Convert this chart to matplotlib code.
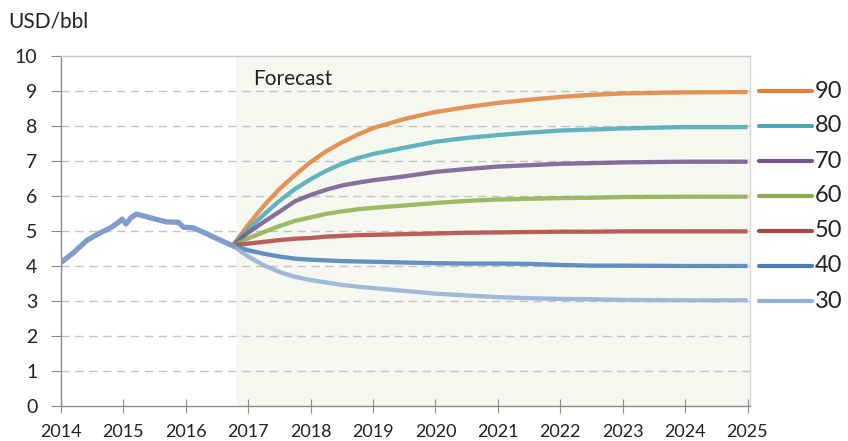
import matplotlib
matplotlib.use("Agg")
import matplotlib.pyplot as plt

plt.rcParams['font.family'] = ['Lato', 'DejaVu Sans']

# Historical price (decimal years)
hist_t = [2014.0, 2014.2, 2014.42, 2014.62, 2014.8, 2014.91, 2014.98, 2015.04, 2015.12,
          2015.21, 2015.35, 2015.53, 2015.69, 2015.88, 2015.96, 2016.12, 2016.3, 2016.44,
          2016.6, 2016.75]
hist_v = [4.1, 4.38, 4.74, 4.94, 5.1, 5.23, 5.34, 5.2, 5.38,
          5.48, 5.42, 5.33, 5.26, 5.25, 5.11, 5.09, 4.95, 4.83,
          4.7, 4.58]

# Forecast scenarios
fc_t = [2016.75, 2017.0, 2017.25, 2017.5, 2017.75, 2018.0, 2018.25, 2018.5, 2018.75, 2019.0,
        2019.5, 2020.0, 2020.5, 2021.0, 2021.5, 2022.0, 2022.5, 2023.0, 2024.0, 2025.0]
s90 = [4.58, 5.18, 5.72, 6.2, 6.6, 6.97, 7.28, 7.53, 7.75, 7.94,
       8.2, 8.4, 8.54, 8.66, 8.75, 8.83, 8.89, 8.93, 8.96, 8.97]
s80 = [4.58, 5.05, 5.47, 5.86, 6.2, 6.48, 6.72, 6.92, 7.08, 7.2,
       7.38, 7.55, 7.66, 7.74, 7.81, 7.87, 7.9, 7.93, 7.97, 7.97]
s70 = [4.58, 4.95, 5.26, 5.55, 5.85, 6.03, 6.18, 6.3, 6.38, 6.45,
       6.56, 6.69, 6.77, 6.84, 6.88, 6.92, 6.94, 6.96, 6.98, 6.98]
s60 = [4.58, 4.79, 4.97, 5.14, 5.29, 5.39, 5.49, 5.56, 5.62, 5.66,
       5.73, 5.8, 5.86, 5.9, 5.92, 5.94, 5.95, 5.97, 5.98, 5.98]
s50 = [4.58, 4.64, 4.69, 4.74, 4.78, 4.8, 4.84, 4.86, 4.88, 4.89,
       4.91, 4.93, 4.95, 4.96, 4.97, 4.98, 4.98, 4.99, 4.99, 4.99]
s40 = [4.58, 4.45, 4.35, 4.27, 4.21, 4.18, 4.16, 4.14, 4.13, 4.12,
       4.1, 4.08, 4.07, 4.07, 4.06, 4.03, 4.01, 4.01, 4.0, 4.0]
s30 = [4.58, 4.27, 4.02, 3.83, 3.69, 3.6, 3.53, 3.46, 3.41, 3.37,
       3.29, 3.21, 3.16, 3.11, 3.08, 3.06, 3.05, 3.03, 3.02, 3.02]

labels = ['90', '80', '70', '60', '50', '40', '30']
series = [s90, s80, s70, s60, s50, s40, s30]
colors = ['#E0823A', '#4BA6B8', '#73568F', '#8DAE4D', '#B04540', '#4A7DBA', '#92AED6']

years = list(range(2014, 2026))
forecast_start = 2016.8

fig = plt.figure(figsize=(8.48, 4.41), dpi=100)
ax = fig.add_axes([61 / 848, 1 - 406 / 441, (750 - 61) / 848, (406 - 56) / 441])

xmax = 2025.04
ax.set_xlim(2014, xmax)
ax.set_ylim(0, 10)

ax.axvspan(forecast_start, xmax, color='#F4F8EF', zorder=0, lw=0)

for yv in range(1, 10):
    ax.axhline(yv, color='#C4C4C4', lw=1.0, ls=(0, (6, 4)), zorder=1)

for vals, c in zip(series, colors):
    ax.plot(fc_t, vals, color=c, lw=3.1, alpha=0.85, zorder=3, solid_capstyle='butt',
            solid_joinstyle='round')
ax.plot(hist_t, hist_v, color='#7F9CCC', lw=3.8, zorder=4, solid_joinstyle='round')

ax.text(2017.08, 9.35, 'Forecast', fontsize=15, color='#222222', va='center', ha='left')

# Scenario key to the right of the plot
for lab, c, yv in zip(labels, colors, [9, 8, 7, 6, 5, 4, 3]):
    ax.plot([2025.18, 2026.03], [yv, yv], color=c, lw=3.0, clip_on=False,
            solid_capstyle='round')
    ax.text(2026.08, yv, lab, fontsize=17, color='#222222', va='center', ha='left',
            clip_on=False)

ax.set_xticks(years)
ax.set_xticklabels([str(y) for y in years], fontsize=13, color='#222222')
ax.set_yticks(range(0, 11))
ax.set_yticklabels([str(v) for v in range(0, 11)], fontsize=14, color='#222222')
ax.tick_params(axis='x', direction='inout', length=10, color='#8C8C8C', pad=8)
ax.tick_params(axis='y', direction='out', length=7, color='#8C8C8C', pad=10)

ax.spines['left'].set_color('#8C8C8C')
ax.spines['bottom'].set_color('#8C8C8C')
ax.spines['top'].set_color('#C8C8C8')
ax.spines['right'].set_color('#D6D6D6')
for s in ax.spines.values():
    s.set_linewidth(1.0)

fig.text(8 / 848, 1 - 22 / 441, 'USD/bbl', fontsize=15, color='#222222', va='center', ha='left')

fig.savefig('out.png', dpi=100)
